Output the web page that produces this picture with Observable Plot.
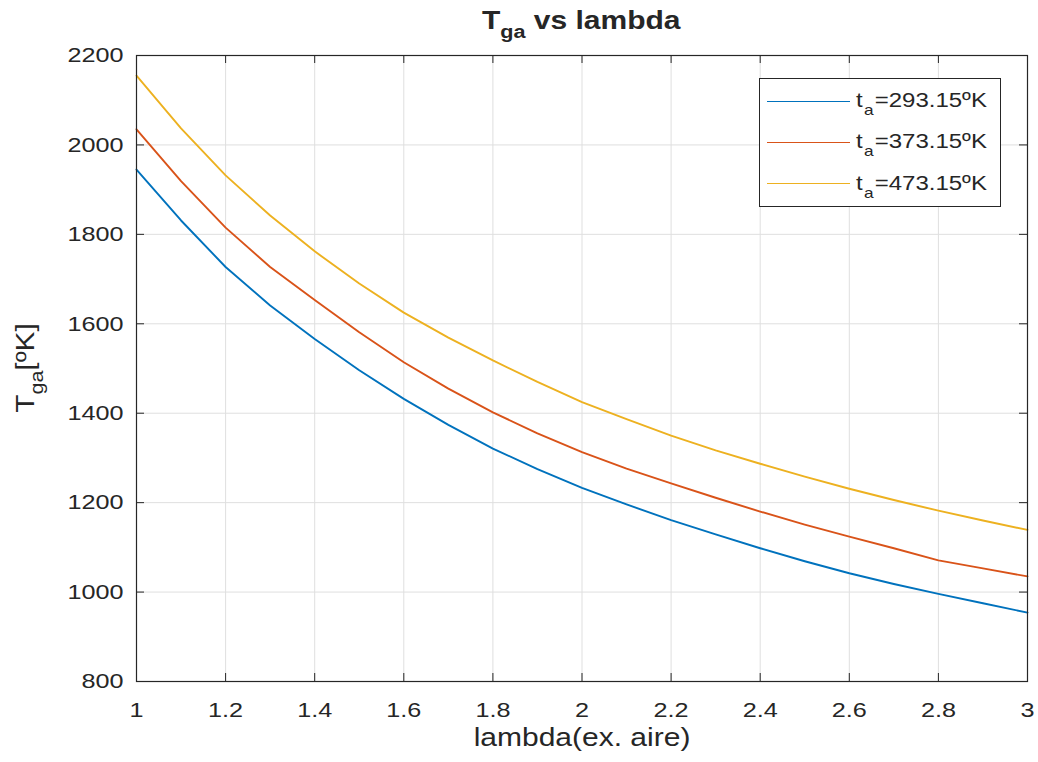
<!DOCTYPE html>
<html><head><meta charset="utf-8">
<script src="https://cdn.jsdelivr.net/npm/d3@7"></script>
<script src="https://cdn.jsdelivr.net/npm/@observablehq/plot@0.6"></script>
<style>
html,body{margin:0;padding:0;background:#fff;}
body{font-family:"Liberation Sans",Arial,Helvetica,sans-serif;color:#262626;}
#wrap{position:relative;width:1038px;height:762px;overflow:hidden;}
.ov{position:absolute;white-space:nowrap;color:#262626;}
.sub{position:relative;font-size:0.72em;}
</style></head>
<body><div id="wrap"></div>
<script>
// ---- data ----
const lambda = [1.0,1.1,1.2,1.3,1.4,1.5,1.6,1.7,1.8,1.9,2.0,2.1,2.2,2.3,2.4,2.5,2.6,2.7,2.8,2.9,3.0];
const Tga_293 = [1945,1831,1727,1641,1566,1496,1432,1374,1321,1275,1233,1196,1161,1129,1098,1069,1042,1018,996,975,954];
const Tga_373 = [2035,1919,1815,1727,1653,1581,1514,1455,1402,1355,1313,1276,1243,1211,1180,1151,1124,1098,1071,1053,1035];
const Tga_473 = [2155,2037,1932,1842,1762,1690,1625,1569,1518,1470,1425,1387,1350,1317,1287,1258,1231,1206,1182,1160,1139];
const seriesTa = ["293.15","373.15","473.15"];
const seriesColors = ["#0072BD","#D95319","#EDB120"];
const xTicks = [1,1.2,1.4,1.6,1.8,2,2.2,2.4,2.6,2.8,3];
const xTickLabels = ["1","1.2","1.4","1.6","1.8","2","2.2","2.4","2.6","2.8","3"];
const yTicks = [800,1000,1200,1400,1600,1800,2000,2200];
const yTickLabels = ["800","1000","1200","1400","1600","1800","2000","2200"];
const titleMain = "T", titleSub = "ga", titleRest = " vs lambda";
const xLabel = "lambda(ex. aire)";
const yLabelMain = "T", yLabelSub = "ga", yLabelRest = "[ºK]";

// ---- build table ----
const rows = [];
[Tga_293, Tga_373, Tga_473].forEach((arr, i) =>
  arr.forEach((v, j) => rows.push({lambda: lambda[j], T: v, s: seriesTa[i]})));

const W = 1038, H = 762, mL = 136, mR = 11, mT = 55, mB = 81;
const frameH = H - mT - mB, frameW = W - mL - mR;
const tk = 8;
const SX = 1.2; // horizontal widening of the reference text
const ink = "#262626";

const xFmt = new Map(xTicks.map((d, i) => [d, xTickLabels[i]]));
const yFmt = new Map(yTicks.map((d, i) => [d, yTickLabels[i]]));

const chart = Plot.plot({
  width: W, height: H,
  marginLeft: mL, marginRight: mR, marginTop: mT, marginBottom: mB,
  style: {fontFamily: "'Liberation Sans', Arial, Helvetica, sans-serif", color: ink, background: "#fff"},
  x: {domain: [1, 3]},
  y: {domain: [800, 2200]},
  color: {domain: seriesTa, range: seriesColors},
  marks: [
    Plot.gridX(xTicks, {stroke: "#dfdfdf", strokeOpacity: 1, strokeWidth: 1}),
    Plot.gridY(yTicks, {stroke: "#dfdfdf", strokeOpacity: 1, strokeWidth: 1}),
    Plot.line(rows, {x: "lambda", y: "T", z: "s", stroke: "s", strokeWidth: 1.9}),
    Plot.tickX(xTicks, {x: d => d, insetTop: frameH - tk, stroke: ink}),
    Plot.tickX(xTicks, {x: d => d, insetBottom: frameH - tk, stroke: ink}),
    Plot.tickY(yTicks, {y: d => d, insetRight: frameW - tk, stroke: ink}),
    Plot.tickY(yTicks, {y: d => d, insetLeft: frameW - tk, stroke: ink}),
    Plot.frame({stroke: ink, strokeWidth: 1.2}),
    Plot.axisX(xTicks, {tickSize: 0, tickPadding: 21, fontSize: 21, tickFormat: d => xFmt.get(d), label: null, fill: ink}),
    Plot.axisY(yTicks, {tickSize: 0, tickPadding: 13, fontSize: 21, tickFormat: d => yFmt.get(d), label: null, fill: ink}),
    Plot.text([xLabel], {frameAnchor: "bottom", text: d => d, dy: 56, fontSize: 25, lineAnchor: "middle", fill: ink})
  ]
});

// widen all SVG text horizontally like the reference
d3.select(chart).selectAll("text").each(function () {
  const x = +(this.getAttribute("x") || 0);
  const t = this.getAttribute("transform") || "";
  this.setAttribute("transform", `${t} translate(${x},0) scale(${SX},1) translate(${-x},0)`);
});

const wrap = document.getElementById("wrap");
wrap.appendChild(chart);

function addText(html, F, bold) {
  const el = document.createElement("div");
  el.className = "ov";
  el.style.fontSize = F + "px";
  el.style.lineHeight = F + "px";
  if (bold) el.style.fontWeight = "bold";
  el.style.left = "0px"; el.style.top = "0px";
  el.style.transformOrigin = "0 0";
  el.innerHTML = html;
  wrap.appendChild(el);
  return el;
}
const BL = 0.8465; // baseline position (fraction of F) in a line-height:F box

// title
{
  const F = 25;
  const el = addText(`${titleMain}<span class="sub" style="top:9px">${titleSub}</span>${titleRest}`, F, true);
  const w = el.offsetWidth;
  const cx = (mL + (W - mR)) / 2, base = 29;
  el.style.transform = `translate(${cx - SX * w / 2}px, ${base - BL * F}px) scaleX(${SX})`;
}
// y label (rotated)
{
  const F = 26, S = 1.15;
  const el = addText(`${yLabelMain}<span class="sub" style="top:9px">${yLabelSub}</span>${yLabelRest}`, F, false);
  const w = el.offsetWidth;
  const bx = 34, cy = mT + frameH / 2;
  el.style.transform = `translate(${bx}px, ${cy + S * w / 2}px) rotate(-90deg) scaleX(${S}) translate(0px, ${-BL * F}px)`;
}
// legend
{
  const box = document.createElement("div");
  box.className = "ov";
  Object.assign(box.style, {left: "759px", top: "78px", width: "240px", height: "127px",
    border: "1px solid " + ink, background: "#fff"});
  wrap.appendChild(box);
  const rowY = [101.5, 142.5, 184];
  seriesTa.forEach((ta, i) => {
    const ln = document.createElement("div");
    ln.className = "ov";
    Object.assign(ln.style, {left: "767px", top: (rowY[i] - 0.9) + "px", width: "83px", height: "0px",
      borderTop: "1.8px solid " + seriesColors[i]});
    wrap.appendChild(ln);
    const F = 20;
    const el = addText(`t<span class="sub" style="top:8px;margin:0 1px 0 1px">a</span>=${ta}ºK`, F, false);
    el.style.transform = `translate(856px, ${rowY[i] + 5.5 - BL * F}px) scaleX(${SX})`;
  });
}
</script>
</body></html>
